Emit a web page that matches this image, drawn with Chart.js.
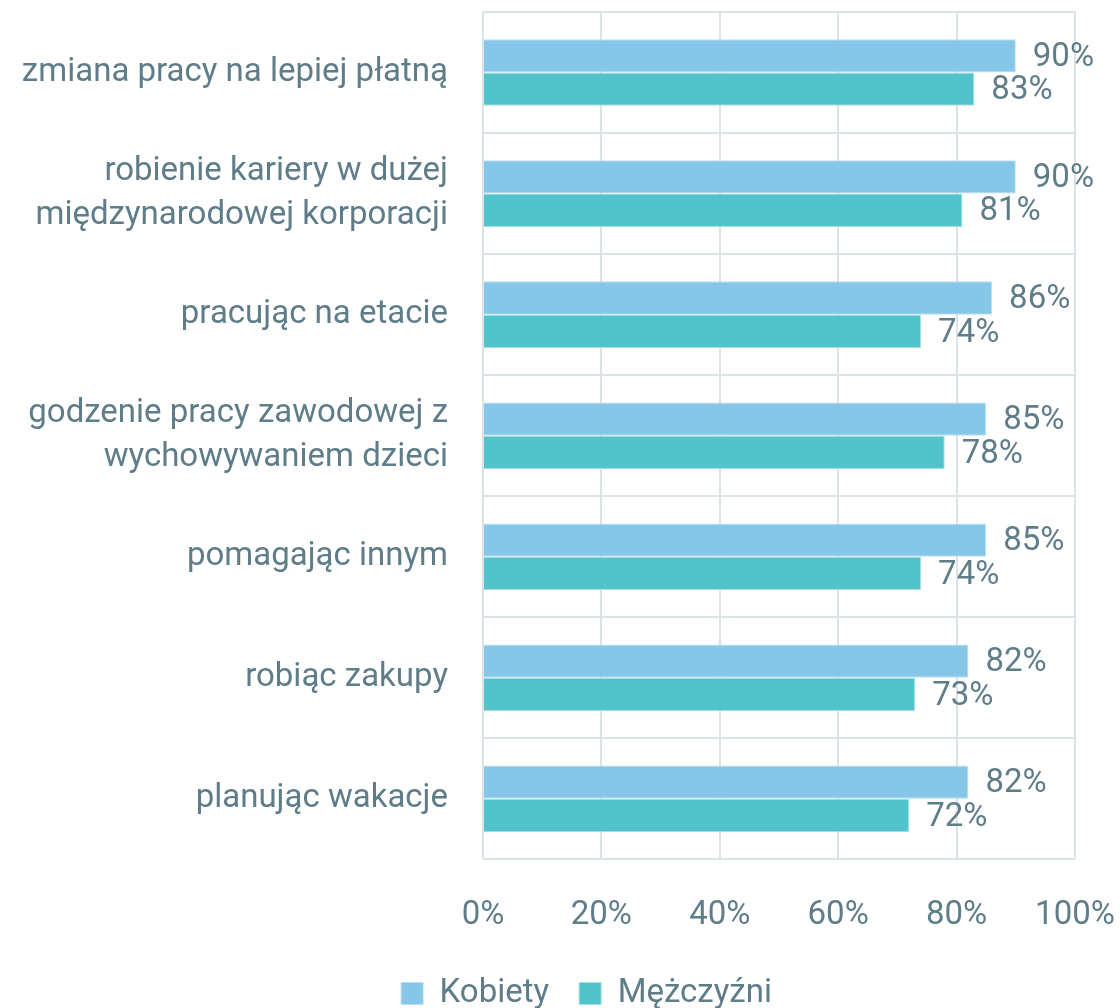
<!DOCTYPE html>
<html><head><meta charset="utf-8">
<script src="https://cdn.jsdelivr.net/npm/chart.js@4/dist/chart.umd.min.js"></script>
<style>html,body{margin:0;padding:0;background:#fff}#wrap{width:1120px;height:1008px}</style>
</head><body><div id="wrap"><canvas id="c" width="1120" height="1008"></canvas></div>
<script>
const categories = [
  "zmiana pracy na lepiej płatną",
  ["robienie kariery w dużej", "międzynarodowej korporacji"],
  "pracując na etacie",
  ["godzenie pracy zawodowej z", "wychowywaniem dzieci"],
  "pomagając innym",
  "robiąc zakupy",
  "planując wakacje"
];
const kobiety = [90, 90, 86, 85, 85, 82, 82];
const mezczyzni = [83, 81, 74, 78, 74, 73, 72];
const seriesNames = ["Kobiety", "Mężczyźni"];
const xTicks = [0, 20, 40, 60, 80, 100];

const FONT = "Roboto, sans-serif";
const FS = 33;
const TXT = "#5E7D89";

const labelPlugin = {
  id: 'barLabels',
  afterDatasetsDraw(chart) {
    const ctx = chart.ctx;
    ctx.save();
    ctx.font = FS + "px " + FONT;
    ctx.fillStyle = TXT;
    ctx.textAlign = 'left';
    ctx.textBaseline = 'middle';
    chart.data.datasets.forEach((ds, i) => {
      chart.getDatasetMeta(i).data.forEach((bar, j) => {
        ctx.fillText(ds.data[j] + '%', bar.x + 17, bar.y + 2);
      });
    });
    ctx.restore();
  }
};

const legendShift = {
  id: 'legendShift',
  afterLayout(chart) {
    const dx = 49;
    if (chart.legend) { chart.legend.left += dx; chart.legend.right += dx; }
  }
};

new Chart(document.getElementById('c'), {
  type: 'bar',
  data: {
    labels: categories,
    datasets: [
      { label: seriesNames[0], data: kobiety, backgroundColor: '#86C6E8', borderColor: '#B9DEF2', borderWidth: 1, barPercentage: 1, categoryPercentage: 0.55 },
      { label: seriesNames[1], data: mezczyzni, backgroundColor: '#50C3CB', borderColor: '#A6E0E4', borderWidth: 1, barPercentage: 1, categoryPercentage: 0.55 }
    ]
  },
  options: {
    indexAxis: 'y',
    responsive: false,
    animation: false,
    devicePixelRatio: 1,
    layout: { padding: { top: 12, right: 45, left: 0, bottom: -12 } },
    plugins: {
      legend: {
        position: 'bottom',
        labels: {
          font: { family: FONT, size: FS },
          color: TXT,
          boxWidth: 22, boxHeight: 22,
          padding: 30
        }
      },
      tooltip: { enabled: false }
    },
    scales: {
      x: {
        min: 0, max: 100,
        afterBuildTicks(scale) { scale.ticks = xTicks.map(v => ({ value: v })); },
        afterFit(scale) { scale.paddingLeft = 0; scale.paddingRight = 0; scale.height -= 26; },
        ticks: {
          callback: v => v + '%',
          font: { family: FONT, size: FS },
          color: TXT,
          padding: 37
        },
        grid: { color: '#DCE3E7', lineWidth: 2, drawTicks: false },
        border: { display: false }
      },
      y: {
        afterFit(scale) { scale.width = 483; scale.paddingTop = 0; scale.paddingBottom = 0; },
        ticks: {
          font: { family: FONT, size: FS, lineHeight: 1.33 },
          color: TXT,
          padding: 35,
          autoSkip: false
        },
        grid: { color: '#DCE3E7', lineWidth: 2, drawTicks: false, offset: true },
        border: { display: false }
      }
    }
  },
  plugins: [labelPlugin, legendShift]
});
</script>
</body></html>
